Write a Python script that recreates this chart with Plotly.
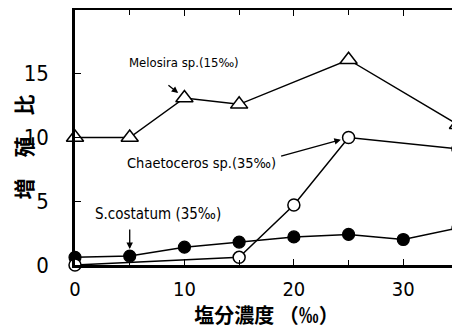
import plotly.graph_objects as go

# salinity (‰)
mel_x = [0, 5, 10, 15, 25, 35]
mel_y = [10.0, 10.0, 13.1, 12.6, 16.1, 11.0]
cha_x = [0, 15, 20, 25, 35]
cha_y = [0.0, 0.6, 4.7, 10.0, 9.1]
sco_x = [0, 5, 10, 15, 20, 25, 30, 35]
sco_y = [0.6, 0.7, 1.4, 1.8, 2.2, 2.4, 2.0, 2.9]

x_ticks = [0, 10, 20, 30]
y_ticks = [0, 5, 10, 15]

NUM_FONT = "DejaVu Sans Condensed, Liberation Sans Narrow, sans-serif"
CJK_FONT = "Noto Sans CJK JP"

fig = go.Figure()
line = dict(color="black", width=1.5)
fig.add_trace(go.Scatter(x=mel_x, y=mel_y, mode="lines+markers", line=line,
                         marker=dict(symbol="triangle-up", size=15, color="white",
                                     line=dict(color="black", width=1.5)),
                         cliponaxis=False, showlegend=False))
fig.add_trace(go.Scatter(x=sco_x, y=sco_y, mode="lines+markers", line=line,
                         marker=dict(symbol="circle", size=12, color="black",
                                     line=dict(color="black", width=1.2)),
                         cliponaxis=False, showlegend=False))
fig.add_trace(go.Scatter(x=cha_x, y=cha_y, mode="lines+markers", line=line,
                         marker=dict(symbol="circle", size=12, color="white",
                                     line=dict(color="black", width=1.5)),
                         cliponaxis=False, showlegend=False))

def tfont(size):
    return dict(family=NUM_FONT, size=size, color="black")

arrow = dict(showarrow=True, arrowhead=2, arrowsize=1, arrowwidth=1.3,
             arrowcolor="black", axref="x", ayref="y", text="")
annotations = [
    dict(x=10.0, y=15.9, text="Melosira sp.(15‰)", showarrow=False, font=tfont(13)),
    dict(x=mel_x[2], y=mel_y[2], ax=8.4, ay=14.2, standoff=8, **arrow),
    dict(x=11.6, y=8.0, text="Chaetoceros sp.(35‰)", showarrow=False, font=tfont(14.5)),
    dict(x=cha_x[3], y=cha_y[3], ax=18.7, ay=8.5, standoff=8, **arrow),
    dict(x=7.6, y=4.0, text="S.costatum (35‰)", showarrow=False, font=tfont(15)),
    dict(x=sco_x[1], y=sco_y[1], ax=5.0, ay=2.9, standoff=7, **arrow),
]

fig.update_layout(
    width=452, height=321,
    margin=dict(l=67, r=2, t=2, b=64),
    paper_bgcolor="white", plot_bgcolor="white",
    annotations=annotations,
    xaxis=dict(range=[0, 35], tickvals=x_ticks, ticks="inside", ticklen=6,
               tickwidth=1.2, tickcolor="black", ticklabelstandoff=4,
               minor=dict(dtick=5, tick0=0, ticks="inside", ticklen=5, tickcolor="black"),
               showline=True, linewidth=2.5, linecolor="black", mirror="ticks",
               showgrid=False, zeroline=False, automargin=False,
               tickfont=tfont(20),
               title=dict(text="<b>塩分濃度 （‰）</b>", standoff=3,
                          font=dict(family=CJK_FONT, size=20, color="black"))),
    yaxis=dict(range=[0, 20], tickvals=y_ticks, ticks="inside", ticklen=6,
               tickwidth=1.2, tickcolor="black", ticklabelstandoff=19,
               showline=True, linewidth=2.5, linecolor="black", mirror="ticks",
               showgrid=False, zeroline=False, automargin=False,
               tickfont=tfont(22),
               title=dict(text="<b>増　殖　比&nbsp;&nbsp;&nbsp;&nbsp;</b>", standoff=3,
                          font=dict(family=CJK_FONT, size=21, color="black"))),
)

fig.write_html("out.html")
